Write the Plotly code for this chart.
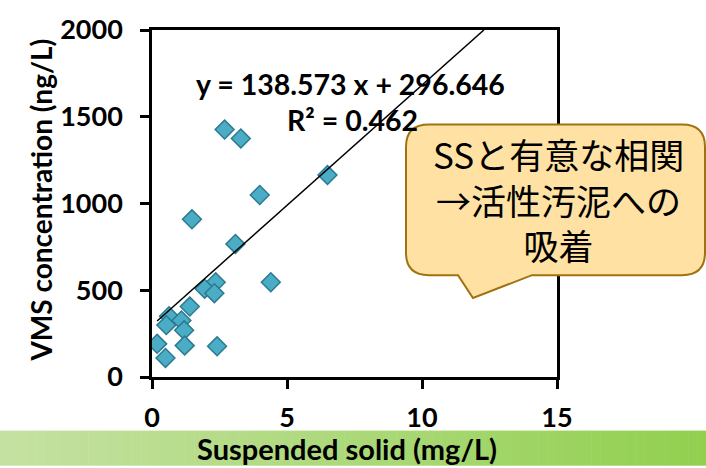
import plotly.graph_objects as go

# Suspended solid (mg/L) vs VMS concentration (ng/L)
ss_mg_l = [2.69, 3.29, 6.50, 3.99, 1.48, 3.09, 4.40, 2.36, 1.95, 2.31,
           1.40, 0.63, 0.53, 1.09, 1.19, 0.19, 0.50, 1.21, 2.41]
vms_ng_l = [1426, 1375, 1164, 1049, 909, 767, 546, 546, 509, 483,
            406, 350, 299, 326, 269, 191, 110, 181, 177]

# Linear trendline as reported
slope = 138.573
intercept = 296.646
r_squared = 0.462

x_range = [0, 15]
y_range = [0, 2000]
x_ticks = [0, 5, 10, 15]
y_ticks = [0, 500, 1000, 1500, 2000]

callout_lines = ["SSと有意な相関", "→活性汚泥への", "吸着"]

W, H = 706, 468
L, R, T, B = 152, 149, 21, 91
PW, PH = W - L - R, H - T - B


def to_paper(px, py):
    """Convert page pixel position to paper coordinates."""
    return (px - L) / PW, (H - B - py) / PH


def path_from_pixels(cmds):
    parts = []
    for c in cmds:
        op, pts = c[0], c[1:]
        coords = []
        for (px, py) in pts:
            X, Y = to_paper(px, py)
            coords.append(f"{X:.5f},{Y:.5f}")
        parts.append(op + " " + " ".join(coords))
    return " ".join(parts) + " Z"


fig = go.Figure()

fig.add_trace(go.Scatter(
    x=ss_mg_l, y=vms_ng_l, mode="markers",
    marker=dict(symbol="diamond", size=14.5, color="#4BACC6",
                line=dict(color="#2B7A90", width=1.5)),
    hoverinfo="x+y", showlegend=False,
))

# Trendline from smallest SS up to the top of the value axis
x_start = min(ss_mg_l)
x_end = (y_range[1] - intercept) / slope
fig.add_trace(go.Scatter(
    x=[x_start, x_end],
    y=[slope * x_start + intercept, slope * x_end + intercept],
    mode="lines", line=dict(color="black", width=1.5),
    hoverinfo="skip", showlegend=False,
))

font_main = "Lato, 'Open Sans', sans-serif"
axis_common = dict(
    showline=True, linecolor="black", linewidth=2.5, mirror=True,
    ticks="outside", ticklen=9, tickwidth=2.5, tickcolor="black",
    showgrid=False, zeroline=False,
    tickfont=dict(family=font_main, size=27, color="black", weight="bold"),
)

fig.update_xaxes(range=x_range, tickvals=x_ticks, ticklabelstandoff=6,
                 **axis_common)
fig.update_yaxes(range=y_range, tickvals=y_ticks, ticklabelstandoff=12,
                 **axis_common)

shapes = []

# Green gradient band behind the x-axis title
n_strips = 80
c0 = (197, 225, 162)
c1 = (146, 208, 80)
band_top, band_bot = 432, 468
for i in range(n_strips):
    t = i / (n_strips - 1)
    col = tuple(round(a + (b - a) * t) for a, b in zip(c0, c1))
    xa, yb = to_paper(W * i / n_strips, band_bot)
    xb, ya = to_paper(W * (i + 1) / n_strips + 0.5, band_top)
    shapes.append(dict(type="rect", xref="paper", yref="paper",
                       x0=xa, x1=xb, y0=yb, y1=ya,
                       fillcolor=f"rgb{col}", line=dict(width=0),
                       layer="below"))

# Rounded speech-bubble callout
x0, y0, x1, y1, r = 406, 118, 705, 272.5, 23
tail_l, tail_r, tip = 458, 532, (473, 296)
bubble = path_from_pixels([
    ("M", (x0 + r, y0)),
    ("L", (x1 - r, y0)),
    ("Q", (x1, y0), (x1, y0 + r)),
    ("L", (x1, y1 - r)),
    ("Q", (x1, y1), (x1 - r, y1)),
    ("L", (tail_r, y1)),
    ("L", tip),
    ("L", (tail_l, y1)),
    ("L", (x0 + r, y1)),
    ("Q", (x0, y1), (x0, y1 - r)),
    ("L", (x0, y0 + r)),
    ("Q", (x0, y0), (x0 + r, y0)),
])
shapes.append(dict(type="path", xref="paper", yref="paper", path=bubble,
                   fillcolor="#FFE2A3", line=dict(color="#A0720F", width=2),
                   layer="above"))

annotations = []


def add_text(px, py, text, size, family=font_main, bold=True, angle=0):
    X, Y = to_paper(px, py)
    annotations.append(dict(
        x=X, y=Y, xref="paper", yref="paper", text=text, showarrow=False,
        xanchor="center", yanchor="middle", textangle=angle, align="center",
        font=dict(family=family, size=size, color="black",
                  weight="bold" if bold else "normal"),
    ))


add_text(350, 76, f"y = {slope:.3f} x + {intercept:.3f}", 28.5)
add_text(352, 113, f"R² = {r_squared:.3f}", 28.5)
add_text(347, 450, "Suspended solid (mg/L)", 29)
add_text(41, 196, "VMS concentration (ng/L)", 28, angle=-90)

cjk = "'Noto Sans CJK JP', 'Noto Sans CJK SC', sans-serif"
add_text(558, 194, "<br>".join(callout_lines), 35, family=cjk, bold=False)

fig.update_layout(
    width=W, height=H,
    margin=dict(l=L, r=R, t=T, b=B),
    paper_bgcolor="white", plot_bgcolor="white",
    shapes=shapes, annotations=annotations,
    showlegend=False,
)

fig.write_html("out.html")
